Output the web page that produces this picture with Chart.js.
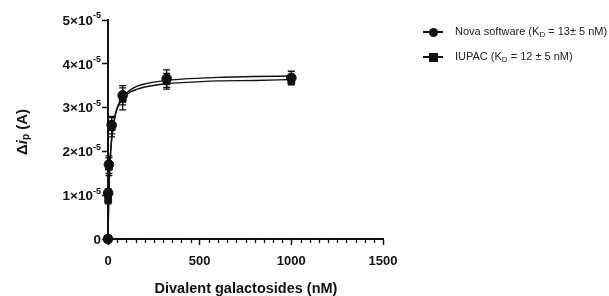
<!DOCTYPE html>
<html>
<head>
<meta charset="utf-8">
<script src="https://cdn.jsdelivr.net/npm/chart.js@4.4.1/dist/chart.umd.min.js"></script>
<style>
  html,body{margin:0;padding:0;background:#fff;}
  #wrap{position:relative;width:609px;height:296px;overflow:hidden;font-family:"Liberation Sans",Arial,sans-serif;}
  canvas{position:absolute;left:0;top:0;}
  .ytitle{position:absolute;left:22px;top:132px;transform:translate(-50%,-50%) rotate(-90deg);font-weight:bold;font-size:15px;white-space:nowrap;color:#111;}
  .xtitle{position:absolute;left:246px;top:288px;transform:translate(-50%,-50%);font-weight:bold;font-size:14.5px;white-space:nowrap;color:#111;}
  .leg{position:absolute;left:423px;font-size:11px;color:#222;white-space:nowrap;}
  .leg .mk{position:absolute;left:0;top:0;width:20px;height:12px;}
  .leg .mk .ln{position:absolute;left:0;top:5px;width:20px;height:1.5px;background:#111;}
  .leg .mk .c{position:absolute;left:5.5px;top:1.5px;width:9px;height:9px;border-radius:50%;background:#111;}
  .leg .mk .s{position:absolute;left:5.5px;top:1.5px;width:9px;height:9px;background:#111;}
  .leg .t{position:absolute;left:32px;top:-1px;}
  sub{font-size:8px;vertical-align:-2px;}
</style>
</head>
<body>
<div id="wrap">
  <canvas id="c" width="609" height="296"></canvas>
  <div class="ytitle">Δ<i>i</i><sub style="font-size:10px">p</sub> (A)</div>
  <div class="xtitle">Divalent galactosides (nM)</div>
  <div class="leg" style="top:26px"><div class="mk"><div class="ln"></div><div class="c"></div></div><div class="t">Nova software (K<sub>D</sub> = 13± 5 nM)</div></div>
  <div class="leg" style="top:51px"><div class="mk"><div class="ln"></div><div class="s"></div></div><div class="t">IUPAC (K<sub>D</sub> = 12 ± 5 nM)</div></div>
</div>
<script>
// concentrations (nM)
const concentrations = [0, 1, 5, 20, 80, 320, 1000];
// Δip values in units of 1e-5 A
const novaValues  = [0, 1.05, 1.70, 2.60, 3.28, 3.66, 3.68];
const novaErrors  = [0, 0.10, 0.20, 0.20, 0.22, 0.20, 0.15];
const iupacValues = [0, 0.90, 1.65, 2.55, 3.20, 3.60, 3.62];
const iupacErrors = [0, 0.10, 0.20, 0.22, 0.25, 0.18, 0.10];
// fitted curves
const curveX     = [0, 2, 5, 10, 20, 40, 60, 80, 120, 160, 200, 300, 400, 600, 800, 1000];
const novaCurve  = [0, 0.50, 1.05, 1.64, 2.28, 2.85, 3.10, 3.24, 3.40, 3.49, 3.54, 3.61, 3.65, 3.69, 3.71, 3.72];
const iupacCurve = [0, 0.53, 1.08, 1.67, 2.30, 2.83, 3.07, 3.20, 3.35, 3.42, 3.47, 3.54, 3.57, 3.61, 3.62, 3.64];
// y tick labels: mantissa and exponent (×10^exp)
const yTickMantissa = ['0', '1', '2', '3', '4', '5'];
const yTickExponent = ['', '-5', '-5', '-5', '-5', '-5'];
const xTickLabels = {0: '0', 500: '500', 1000: '1000', 1500: '1500'};
const xMinorStep = 50;

const pts = (xs, ys) => xs.map((x, i) => ({x, y: ys[i]}));

const errorBars = {
  id: 'errorBars',
  afterDatasetsDraw(chart) {
    const ctx = chart.ctx, xs = chart.scales.x, ys = chart.scales.y;
    ctx.save();
    ctx.strokeStyle = '#111'; ctx.lineWidth = 1.3;
    [[novaValues, novaErrors], [iupacValues, iupacErrors]].forEach(([v, e]) => {
      concentrations.forEach((c, i) => {
        if (!e[i]) return;
        const px = xs.getPixelForValue(c);
        const top = ys.getPixelForValue(v[i] + e[i]);
        const bot = ys.getPixelForValue(v[i] - e[i]);
        ctx.beginPath();
        ctx.moveTo(px, top); ctx.lineTo(px, bot);
        ctx.moveTo(px - 3.5, top); ctx.lineTo(px + 3.5, top);
        ctx.moveTo(px - 3.5, bot); ctx.lineTo(px + 3.5, bot);
        ctx.stroke();
      });
    });
    ctx.restore();
  }
};
const axisExtras = {
  id: 'axisExtras',
  afterDraw(chart) {
    const ctx = chart.ctx, xs = chart.scales.x, ys = chart.scales.y;
    const y0 = chart.chartArea.bottom;
    ctx.save();
    ctx.strokeStyle = '#111'; ctx.lineWidth = 1.3;
    for (let v = xs.min; v <= xs.max; v += xMinorStep) {
      if (v % 500 === 0) continue;
      const px = Math.round(xs.getPixelForValue(v)) + 0.5;
      ctx.beginPath(); ctx.moveTo(px, y0); ctx.lineTo(px, y0 + 4); ctx.stroke();
    }
    // y tick labels with superscript exponents
    ctx.fillStyle = '#111';
    ctx.textBaseline = 'middle';
    const right = chart.chartArea.left - 7;
    yTickMantissa.forEach((m, i) => {
      const py = ys.getPixelForValue(i);
      const exp = yTickExponent[i];
      ctx.font = 'bold 9px "Liberation Sans", Arial, sans-serif';
      const ew = exp ? ctx.measureText(exp).width : 0;
      ctx.font = 'bold 13.5px "Liberation Sans", Arial, sans-serif';
      const base = exp ? m + '×10' : m;
      const bw = ctx.measureText(base).width;
      ctx.textAlign = 'left';
      ctx.fillText(base, right - ew - bw, py + 1);
      if (exp) {
        ctx.font = 'bold 9px "Liberation Sans", Arial, sans-serif';
        ctx.fillText(exp, right - ew, py - 4);
      }
    });
    ctx.restore();
  }
};

new Chart(document.getElementById('c'), {
  type: 'scatter',
  data: {
    datasets: [
      {label: 'Nova fit', data: pts(curveX, novaCurve), showLine: true, pointRadius: 0, borderColor: '#111', borderWidth: 1.4, tension: 0.4, cubicInterpolationMode: 'monotone', clip: false},
      {label: 'IUPAC fit', data: pts(curveX, iupacCurve), showLine: true, pointRadius: 0, borderColor: '#111', borderWidth: 1.4, tension: 0.4, cubicInterpolationMode: 'monotone', clip: false},
      {label: 'Nova software', data: pts(concentrations, novaValues), pointStyle: 'circle', pointRadius: 4.8, backgroundColor: '#111', borderColor: '#111', clip: false},
      {label: 'IUPAC', data: pts(concentrations, iupacValues), pointStyle: 'rect', pointRadius: 4.8, backgroundColor: '#111', borderColor: '#111', clip: false}
    ]
  },
  options: {
    responsive: false,
    animation: false,
    layout: {padding: {left: 0, right: 226, top: 20, bottom: 0}},
    plugins: {legend: {display: false}, tooltip: {enabled: false}},
    scales: {
      x: {
        type: 'linear', min: 0, max: 1500,
        afterFit(s) { s.height = 57; },
        border: {display: true, color: '#111', width: 2},
        grid: {drawOnChartArea: false, color: '#111', tickColor: '#111', tickLength: 6, tickWidth: 1.5},
        ticks: {stepSize: 500, color: '#111', padding: 9, font: {family: 'Liberation Sans', size: 13, weight: 'bold'},
          callback: v => xTickLabels[v] ?? ''}
      },
      y: {
        type: 'linear', min: 0, max: 5,
        afterFit(s) { s.width = 108; },
        border: {display: true, color: '#111', width: 2},
        grid: {drawOnChartArea: false, color: '#111', tickColor: '#111', tickLength: 6, tickWidth: 1.5},
        ticks: {stepSize: 1, display: false}
      }
    }
  },
  plugins: [errorBars, axisExtras]
});
</script>
</body>
</html>
